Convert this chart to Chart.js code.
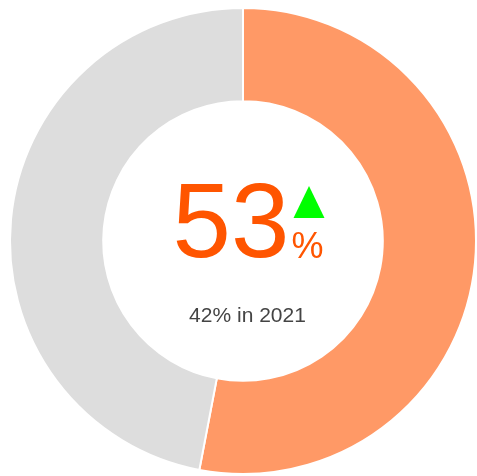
<!DOCTYPE html>
<html>
<head>
<meta charset="utf-8">
<script src="https://cdn.jsdelivr.net/npm/chart.js@4"></script>
<style>
  html, body { margin: 0; padding: 0; background: #fff; }
  #wrap { position: relative; width: 477px; height: 476px; }
</style>
</head>
<body>
<div id="wrap"><canvas id="myChart"></canvas></div>
<script>
// data
const labels = ["2022", "Rest"];
const values = [53, 47];
const colors = ["#FF9966", "#DDDDDD"];
const mainValue = "53";
const prevText = "42% in 2021";

// center text
const centerText = {
  id: "centerText",
  afterDraw(chart) {
    const arc = chart.getDatasetMeta(0).data[0];
    if (!arc) return;
    const cx = arc.x, cy = arc.y;
    const c = chart.ctx;
    c.save();
    c.textBaseline = "alphabetic";

    c.fillStyle = "#FF5500";
    c.textAlign = "left";
    c.font = "105px 'Liberation Sans', Arial, sans-serif";
    c.fillText(mainValue, cx - 70.5, cy + 16);

    c.font = "36px 'Liberation Sans', Arial, sans-serif";
    c.fillText("%", cx + 48.5, cy + 17);

    // up arrow
    c.fillStyle = "#00FF00";
    c.beginPath();
    c.moveTo(cx + 50.5, cy - 23);
    c.lineTo(cx + 81.5, cy - 23);
    c.lineTo(cx + 66, cy - 55);
    c.closePath();
    c.fill();

    c.fillStyle = "#444444";
    c.textAlign = "center";
    c.font = "21px 'Liberation Sans', Arial, sans-serif";
    c.fillText(prevText, cx + 4.5, cy + 81);
    c.restore();
  }
};

new Chart(document.getElementById("myChart"), {
  type: "doughnut",
  data: {
    labels: labels,
    datasets: [
      {
        data: values,
        backgroundColor: colors,
        borderColor: "#ffffff",
        borderWidth: 2,
      },
    ],
  },
  options: {
    responsive: true,
    maintainAspectRatio: false,
    animation: false,
    cutout: "60%",
    layout: { padding: { left: 9, top: 7, right: 0, bottom: 1 } },
    plugins: {
      legend: { display: false },
      tooltip: { enabled: false },
    },
  },
  plugins: [centerText],
});
</script>
</body>
</html>
